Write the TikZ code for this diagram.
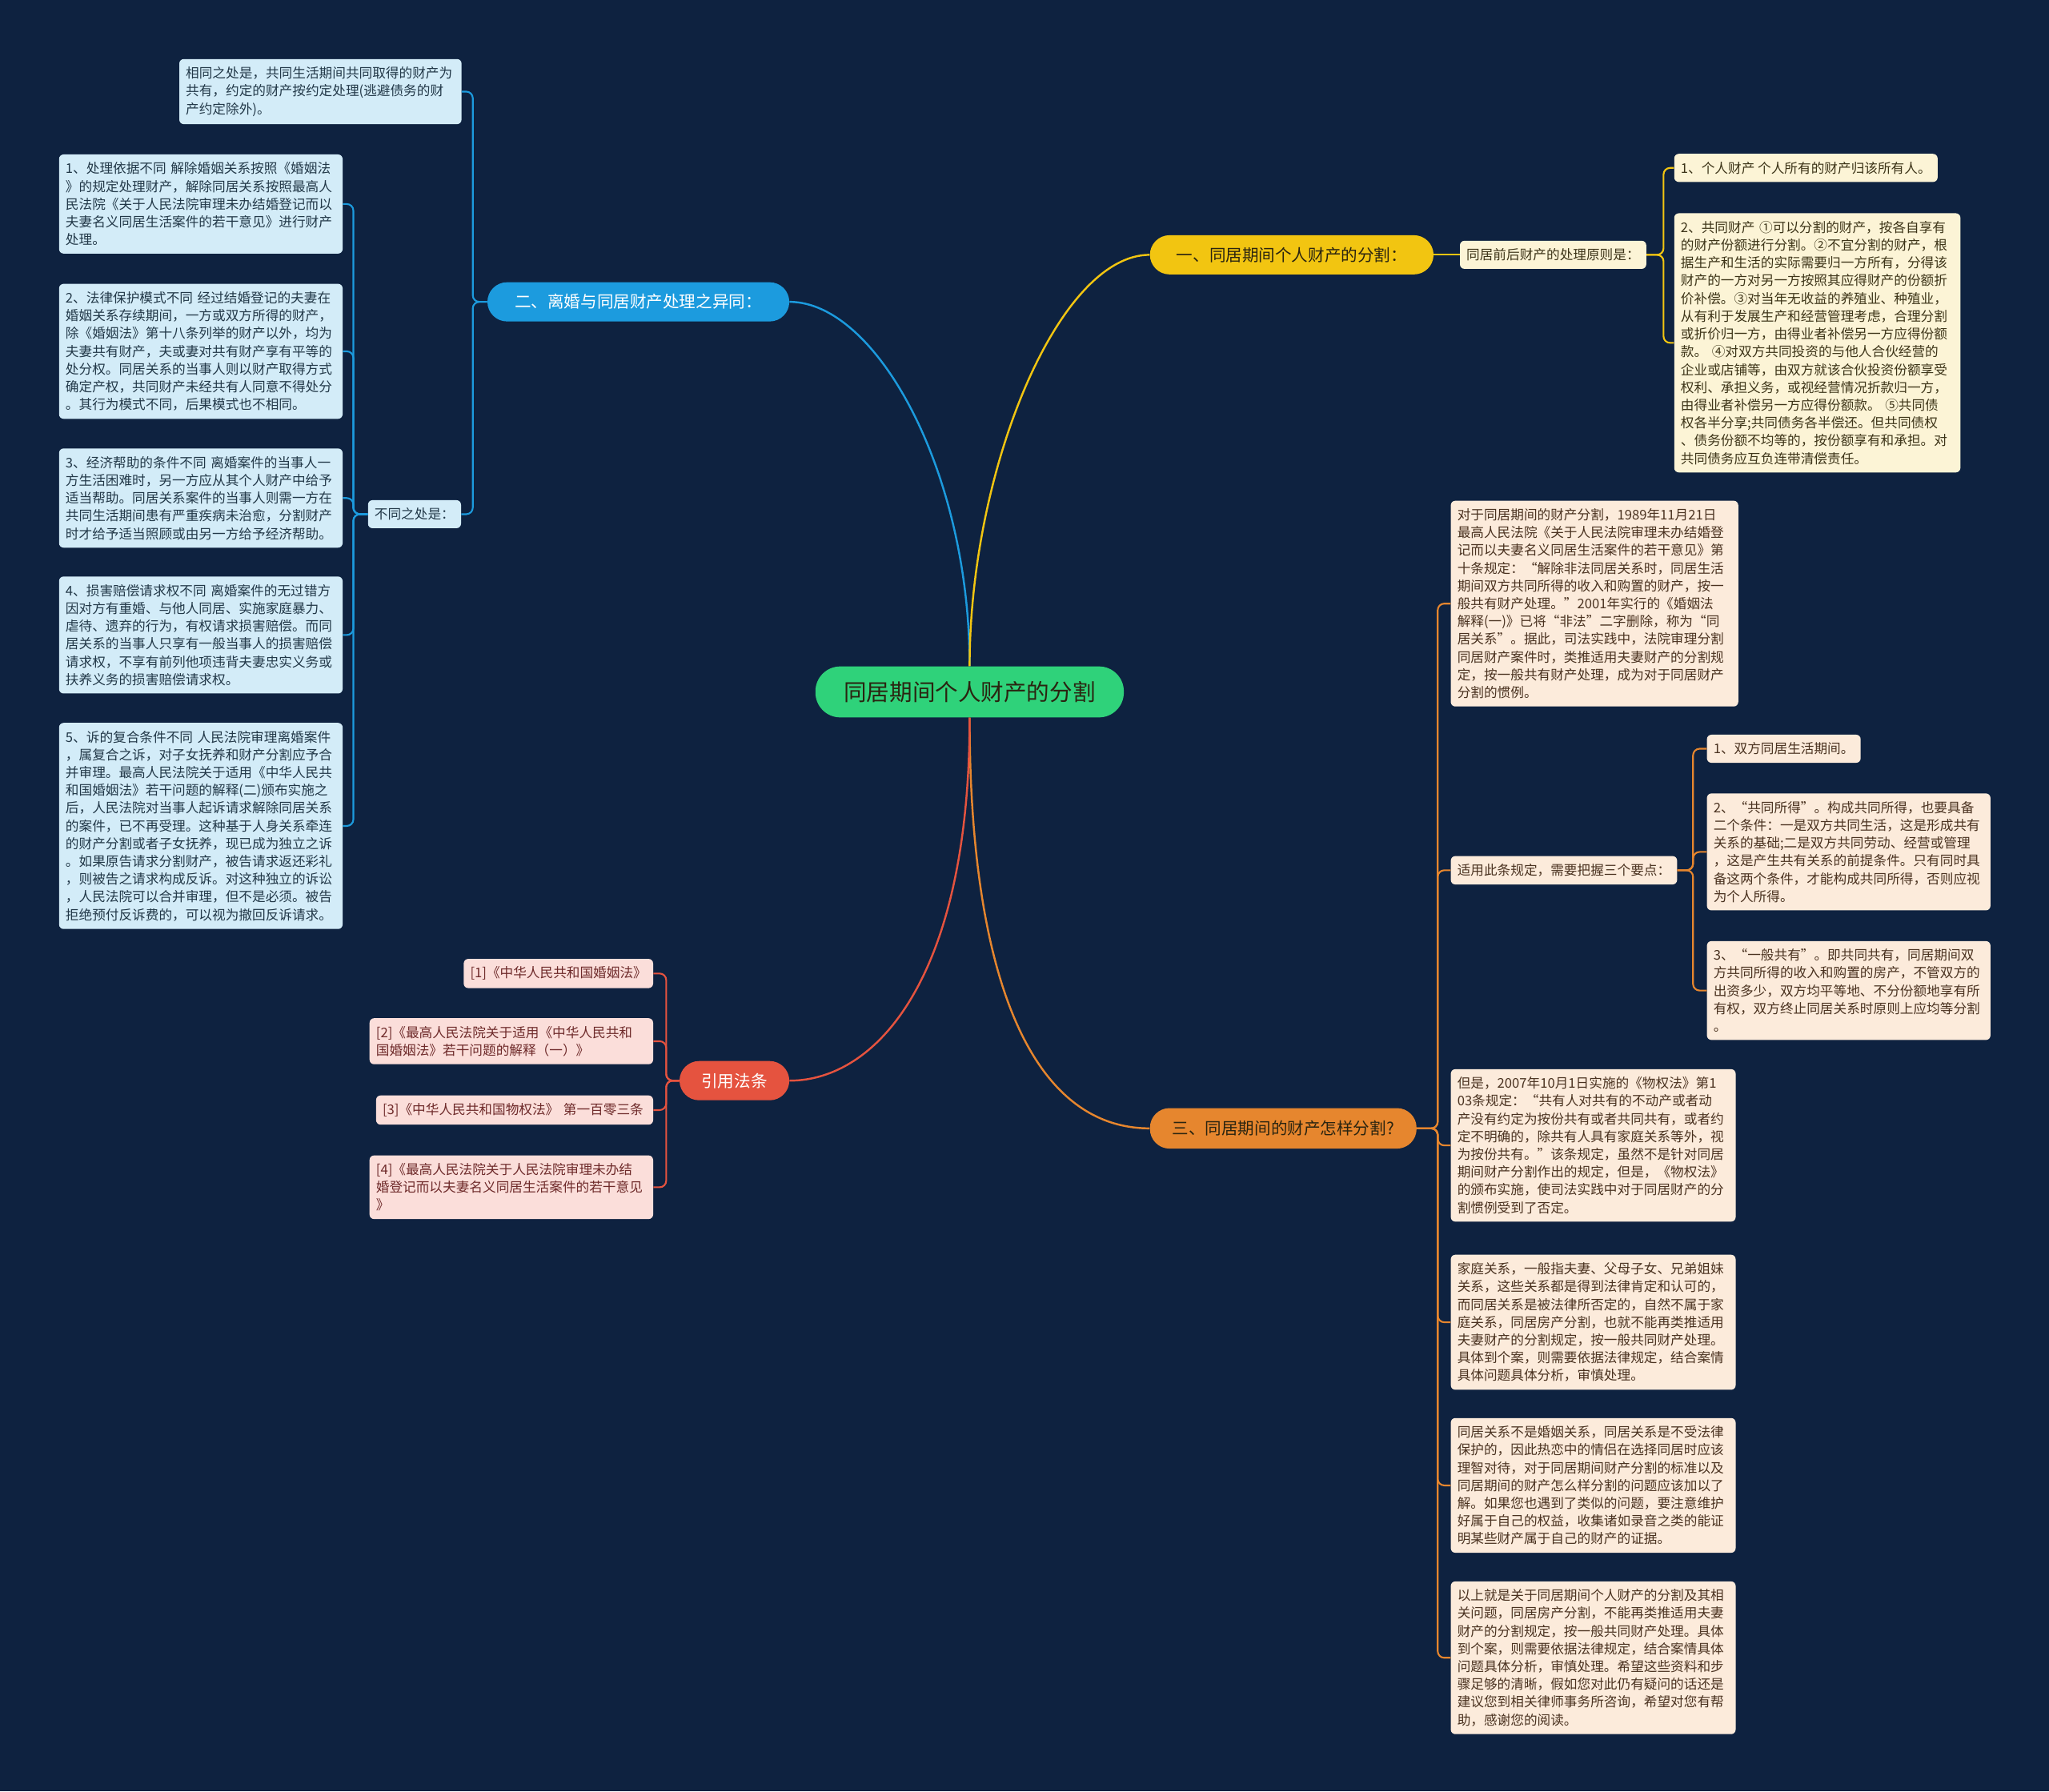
\documentclass[tikz,border=0pt]{standalone}
\usepackage{fontspec}
\setmainfont{Noto Sans CJK SC}
\definecolor{bg}{HTML}{0E2240}
\definecolor{cgreen}{HTML}{2FD27A}
\definecolor{cyellow}{HTML}{F2C511}
\definecolor{cblue}{HTML}{1C9BDE}
\definecolor{corange}{HTML}{E6862E}
\definecolor{cred}{HTML}{E5533F}
\definecolor{lblue}{HTML}{D3ECF8}
\definecolor{lyellow}{HTML}{FCF4D6}
\definecolor{lorange}{HTML}{FCEBDB}
\definecolor{lred}{HTML}{FBDEDA}
\definecolor{tblue}{HTML}{223848}
\definecolor{tyellow}{HTML}{3D3418}
\definecolor{torange}{HTML}{4A3220}
\definecolor{tred}{HTML}{6E2A2A}
\definecolor{tdark}{HTML}{2A2410}
\tikzset{
  leafbox/.style={rounded corners=3.5pt, inner xsep=5pt, inner ysep=6pt, align=left,
    font=\fontsize{10.2}{13.6}\selectfont},
  leafB/.style={leafbox, fill=lblue, text=tblue},
  leafY/.style={leafbox, fill=lyellow, text=tyellow},
  leafO/.style={leafbox, fill=lorange, text=torange},
  leafR/.style={leafbox, fill=lred, text=tred},
  brnode/.style={rounded corners=15pt, minimum height=30pt, inner sep=0pt,
    font=\fontsize{12.6}{15}\selectfont},
  mainlink/.style={line width=1.5pt},
  sublink/.style={line width=1.3pt, rounded corners=5pt},
}
\begin{document}
\begin{tikzpicture}[x=1pt,y=-1pt]
\fill[bg] (0,0) rectangle (1568,1371);
\useasboundingbox (0,0) rectangle (1568,1371);

% center and branches
\node[fill=cgreen, text=tdark, rounded corners=19pt, minimum width=236pt, minimum height=39pt,
  inner sep=0pt, font=\fontsize{17.5}{20}\selectfont] (c) at (742,529.5) {同居期间个人财产的分割};
\node[brnode, fill=cyellow, text=tdark, minimum width=217pt] (b1) at (988.5,195) {一、同居期间个人财产的分割：};
\node[brnode, fill=cblue, text=white, minimum width=231pt] (b2) at (488.5,231) {二、离婚与同居财产处理之异同：};
\node[brnode, fill=corange, text=tdark, minimum width=204pt, minimum height=31pt] (b3) at (982,863.5) {三、同居期间的财产怎样分割?};
\node[brnode, fill=cred, text=white, minimum width=84pt] (b4) at (562,827) {引用法条};

% blue branch
\node[leafB, anchor=north west, text width=206pt] (t) at (137,45)
 {相同之处是，共同生活期间共同取得的财产为\\共有，约定的财产按约定处理(逃避债务的财\\产约定除外)。};
\node[leafB, anchor=east] (d) at (353,393.5) {不同之处是：};
\node[leafB, anchor=north west, text width=207pt] (l1) at (45,118)
 {1、处理依据不同 解除婚姻关系按照《婚姻法\\》的规定处理财产，解除同居关系按照最高人\\民法院《关于人民法院审理未办结婚登记而以\\夫妻名义同居生活案件的若干意见》进行财产\\处理。};
\node[leafB, anchor=north west, text width=207pt] (l2) at (45,217)
 {2、法律保护模式不同 经过结婚登记的夫妻在\\婚姻关系存续期间，一方或双方所得的财产，\\除《婚姻法》第十八条列举的财产以外，均为\\夫妻共有财产，夫或妻对共有财产享有平等的\\处分权。同居关系的当事人则以财产取得方式\\确定产权，共同财产未经共有人同意不得处分\\。其行为模式不同，后果模式也不相同。};
\node[leafB, anchor=north west, text width=207pt] (l3) at (45,343)
 {3、经济帮助的条件不同 离婚案件的当事人一\\方生活困难时，另一方应从其个人财产中给予\\适当帮助。同居关系案件的当事人则需一方在\\共同生活期间患有严重疾病未治愈，分割财产\\时才给予适当照顾或由另一方给予经济帮助。};
\node[leafB, anchor=north west, text width=207pt] (l4) at (45,441)
 {4、损害赔偿请求权不同 离婚案件的无过错方\\因对方有重婚、与他人同居、实施家庭暴力、\\虐待、遗弃的行为，有权请求损害赔偿。而同\\居关系的当事人只享有一般当事人的损害赔偿\\请求权，不享有前列他项违背夫妻忠实义务或\\扶养义务的损害赔偿请求权。};
\node[leafB, anchor=north west, text width=207pt] (l5) at (45,553)
 {5、诉的复合条件不同 人民法院审理离婚案件\\，属复合之诉，对子女抚养和财产分割应予合\\并审理。最高人民法院关于适用《中华人民共\\和国婚姻法》若干问题的解释(二)颁布实施之\\后，人民法院对当事人起诉请求解除同居关系\\的案件，已不再受理。这种基于人身关系牵连\\的财产分割或者子女抚养，现已成为独立之诉\\。如果原告请求分割财产，被告请求返还彩礼\\，则被告之请求构成反诉。对这种独立的诉讼\\，人民法院可以合并审理，但不是必须。被告\\拒绝预付反诉费的，可以视为撤回反诉请求。};

% yellow branch
\node[leafY, anchor=west] (p1) at (1117,195) {同居前后财产的处理原则是：};
\node[leafY, anchor=west] (y1) at (1281,128.5) {1、个人财产 个人所有的财产归该所有人。};
\node[leafY, anchor=north west, text width=209pt] (y2) at (1281,163)
 {2、共同财产 ①可以分割的财产，按各自享有\\的财产份额进行分割。②不宜分割的财产，根\\据生产和生活的实际需要归一方所有，分得该\\财产的一方对另一方按照其应得财产的份额折\\价补偿。③对当年无收益的养殖业、种殖业，\\从有利于发展生产和经营管理考虑，合理分割\\或折价归一方，由得业者补偿另一方应得份额\\款。 ④对双方共同投资的与他人合伙经营的\\企业或店铺等，由双方就该合伙投资份额享受\\权利、承担义务，或视经营情况折款归一方，\\由得业者补偿另一方应得份额款。 ⑤共同债\\权各半分享;共同债务各半偿还。但共同债权\\、债务份额不均等的，按份额享有和承担。对\\共同债务应互负连带清偿责任。};

% orange branch
\node[leafO, anchor=north west, text width=210pt] (o1) at (1110,383)
 {对于同居期间的财产分割，1989年11月21日\\最高人民法院《关于人民法院审理未办结婚登\\记而以夫妻名义同居生活案件的若干意见》第\\十条规定：“解除非法同居关系时，同居生活\\期间双方共同所得的收入和购置的财产，按一\\般共有财产处理。”2001年实行的《婚姻法\\解释(一)》已将“非法”二字删除，称为“同\\居关系”。据此，司法实践中，法院审理分割\\同居财产案件时，类推适用夫妻财产的分割规\\定，按一般共有财产处理，成为对于同居财产\\分割的惯例。};
\node[leafO, anchor=west] (o2) at (1110,666) {适用此条规定，需要把握三个要点：};
\node[leafO, anchor=west] (o21) at (1306,573) {1、双方同居生活期间。};
\node[leafO, anchor=north west, text width=207pt] (o22) at (1306,607)
 {2、“共同所得”。构成共同所得，也要具备\\二个条件：一是双方共同生活，这是形成共有\\关系的基础;二是双方共同劳动、经营或管理\\，这是产生共有关系的前提条件。只有同时具\\备这两个条件，才能构成共同所得，否则应视\\为个人所得。};
\node[leafO, anchor=north west, text width=207pt] (o23) at (1306,720)
 {3、“一般共有”。即共同共有，同居期间双\\方共同所得的收入和购置的房产，不管双方的\\出资多少，双方均平等地、不分份额地享有所\\有权，双方终止同居关系时原则上应均等分割\\。};
\node[leafO, anchor=north west, text width=208pt] (o3) at (1110,818)
 {但是，2007年10月1日实施的《物权法》第1\\03条规定：“共有人对共有的不动产或者动\\产没有约定为按份共有或者共同共有，或者约\\定不明确的，除共有人具有家庭关系等外，视\\为按份共有。”该条规定，虽然不是针对同居\\期间财产分割作出的规定，但是，《物权法》\\的颁布实施，使司法实践中对于同居财产的分\\割惯例受到了否定。};
\node[leafO, anchor=north west, text width=208pt] (o4) at (1110,960)
 {家庭关系，一般指夫妻、父母子女、兄弟姐妹\\关系，这些关系都是得到法律肯定和认可的，\\而同居关系是被法律所否定的，自然不属于家\\庭关系，同居房产分割，也就不能再类推适用\\夫妻财产的分割规定，按一般共同财产处理。\\具体到个案，则需要依据法律规定，结合案情\\具体问题具体分析，审慎处理。};
\node[leafO, anchor=north west, text width=208pt] (o5) at (1110,1085)
 {同居关系不是婚姻关系，同居关系是不受法律\\保护的，因此热恋中的情侣在选择同居时应该\\理智对待，对于同居期间财产分割的标准以及\\同居期间的财产怎么样分割的问题应该加以了\\解。如果您也遇到了类似的问题，要注意维护\\好属于自己的权益，收集诸如录音之类的能证\\明某些财产属于自己的财产的证据。};
\node[leafO, anchor=north west, text width=208pt] (o6) at (1110,1210)
 {以上就是关于同居期间个人财产的分割及其相\\关问题，同居房产分割，不能再类推适用夫妻\\财产的分割规定，按一般共同财产处理。具体\\到个案，则需要依据法律规定，结合案情具体\\问题具体分析，审慎处理。希望这些资料和步\\骤足够的清晰，假如您对此仍有疑问的话还是\\建议您到相关律师事务所咨询，希望对您有帮\\助，感谢您的阅读。};

% red branch
\node[leafR, anchor=east] (r1) at (500,745) {[1]《中华人民共和国婚姻法》};
\node[leafR, anchor=north east, text width=207pt] (r2) at (500,779)
 {[2]《最高人民法院关于适用《中华人民共和\\国婚姻法》若干问题的解释（一）》};
\node[leafR, anchor=east, text width=202pt] (r3) at (500,849.5) {\mbox{[3]《中华人民共和国物权法》\ 第一百零三条}};
\node[leafR, anchor=north east, text width=207pt] (r4) at (500,884)
 {[4]《最高人民法院关于人民法院审理未办结\\婚登记而以夫妻名义同居生活案件的若干意见\\》};

% main curves
\draw[mainlink, cblue] (b2.east) .. controls +(66,0) and +(0,-150) .. (c.north);
\draw[mainlink, cyellow] (b1.west) .. controls +(-70,0) and +(0,-150) .. (c.north);
\draw[mainlink, corange] (c.south) .. controls +(0,200) and +(-90,0) .. (b3.west);
\draw[mainlink, cred] (c.south) .. controls +(0,200) and +(66,0) .. (b4.east);

% blue sub links
\draw[sublink, cblue] (b2.west) -- ++(-11,0) |- (t.east);
\draw[sublink, cblue] (b2.west) -- ++(-11,0) |- (d.east);
\foreach \n in {l1,l2,l3,l4,l5}
  \draw[sublink, cblue] (d.west) -- ++(-11,0) |- (\n.east);

% yellow sub links
\draw[sublink, cyellow] (b1.east) -- (p1.west);
\draw[sublink, cyellow] (p1.east) -- ++(13,0) |- (y1.west);
\draw[sublink, cyellow] (p1.east) -- ++(13,0) |- (y2.west);

% orange sub links
\foreach \n in {o1,o2,o3,o4,o5,o6}
  \draw[sublink, corange] (b3.east) -- ++(16,0) |- (\n.west);
\foreach \n in {o21,o22,o23}
  \draw[sublink, corange] (o2.east) -- ++(12,0) |- (\n.west);

% red sub links
\foreach \n in {r1,r2,r3,r4}
  \draw[sublink, cred] (b4.west) -- ++(-10,0) |- (\n.east);
\end{tikzpicture}
\end{document}
